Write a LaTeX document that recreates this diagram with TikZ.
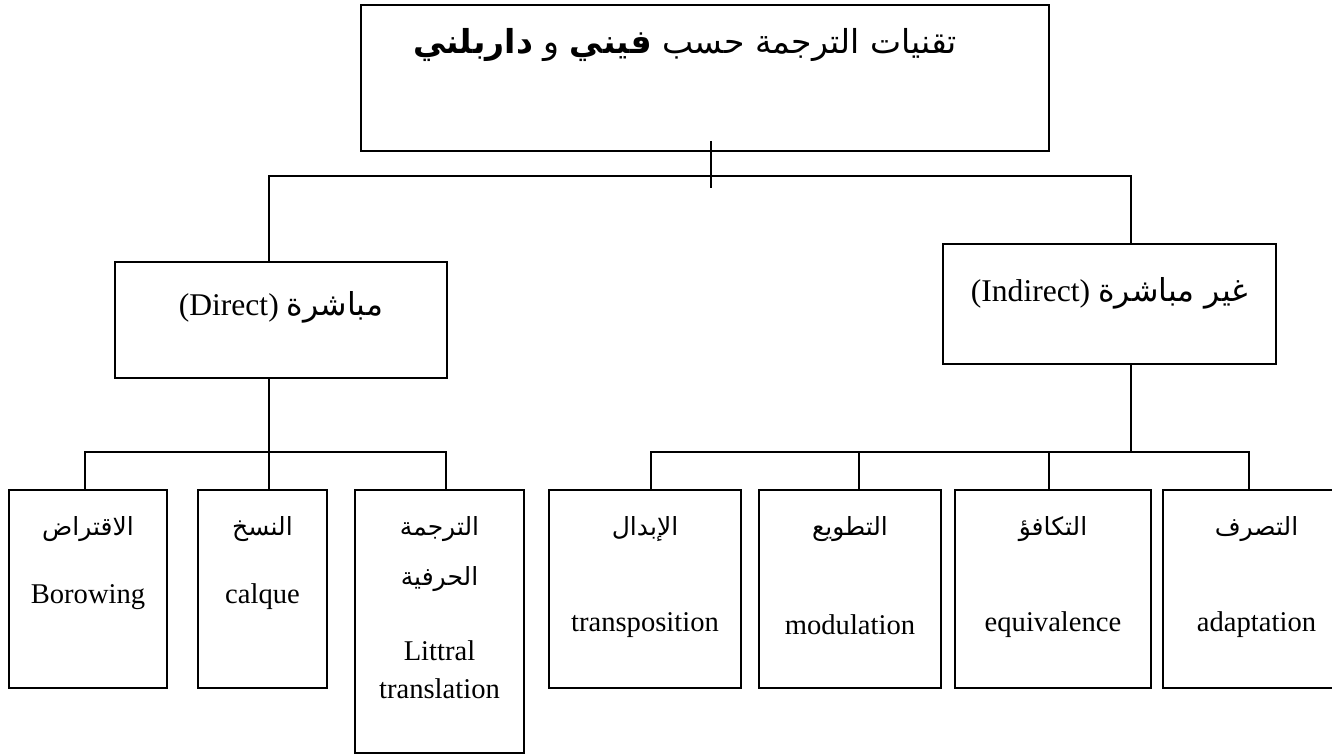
\documentclass[tikz,border=0pt]{standalone}
\usepackage{fontspec}
\setmainfont{Liberation Serif}
\newfontfamily\arabicfont[Script=Arabic]{DejaVu Sans}
\TeXXeTstate=1
\usetikzlibrary{calc}
\newcommand{\artext}[1]{{\arabicfont\beginR #1\endR}}

\begin{document}
\begin{tikzpicture}[x=0.5pt,y=-0.5pt,line width=1pt,
    box/.style={draw,inner sep=0pt},
    leaf/.style={box,minimum height=99pt},
    head/.style={inner sep=0pt,font=\fontsize{15.8}{18}\selectfont},
    en/.style={inner sep=0pt,font=\fontsize{14.3}{19}\selectfont,align=center},
    ar/.style={inner sep=0pt,font=\fontsize{12.5}{25}\selectfont,align=center}]
  \useasboundingbox (0,0) rectangle (1332,754);
  \clip (0,0) rectangle (1332,754);
  % ---------- top: the title and the two kinds ----------
  \node[box,minimum width=344pt,minimum height=73pt] (title) at (705,78) {};
  \node[inner sep=0pt,font=\fontsize{16.5}{18}\selectfont] (titletext) at (685,45)
    {\artext{تقنيات الترجمة حسب \textbf{فيني} و \textbf{داربلني}}};
  \node[box,minimum width=166pt,minimum height=58pt] (direct) at (281,320) {};
  \node[head] (directtext) at ($(direct.north)+(0,46)$) {(Direct) \artext{مباشرة}};
  \node[box,minimum width=166.5pt,minimum height=60pt] (indirect) at (1109.5,304) {};
  \node[head] (indirecttext) at ($(indirect.north)+(0,50)$) {(Indirect) \artext{غير مباشرة}};
  \coordinate (tickup) at (711,141);
  \coordinate (tickdn) at (711,188);
  \coordinate (dstem) at (269,176);
  \coordinate (istem) at (1131,176);
  \coordinate (dbar) at (269,452);
  \coordinate (ibar) at (1131,452);
  \draw (tickup) -- (tickdn);
  \draw (direct.north -| dstem) -- (dstem) -- (istem) -- (indirect.north -| istem);
  \draw (direct.south -| dbar) -- (dbar);
  \draw (indirect.south -| ibar) -- (ibar);
  % ---------- bottom: the seven techniques ----------
  \node[leaf,minimum width=79pt] (borrow) at (88,589) {};
  \node[leaf,minimum width=64.5pt] (calque) at (262.5,589) {};
  \node[box,minimum width=84.5pt,minimum height=131.5pt] (literal) at (439.5,621.5) {};
  \node[leaf,minimum width=96pt] (transp) at (645,589) {};
  \node[leaf,minimum width=91pt] (modul) at (850,589) {};
  \node[leaf,minimum width=98pt] (equiv) at (1053,589) {};
  \node[leaf,minimum width=93.5pt] (adapt) at (1256.5,589) {};
  \foreach \n/\dx in {borrow/-3,calque/6.5,literal/6.5}
    \draw ($(\n.north)+(\dx,0)$) |- (dbar);
  \foreach \n/\dx in {transp/6,modul/9,equiv/-4,adapt/-7.5}
    \draw ($(\n.north)+(\dx,0)$) |- (ibar);
  \foreach \n/\a/\e/\ey in {borrow/الاقتراض/Borowing/108,calque/النسخ/calque/108,
      transp/الإبدال/transposition/136,modul/التطويع/modulation/136,
      equiv/التكافؤ/equivalence/136,adapt/التصرف/adaptation/136}
    {\node[ar] (\n-ar) at ($(\n.north)+(0,40)$) {\artext{\a}};
     \node[en] (\n-en) at ($(\n.north)+(0,\ey)$) {\e};}
  \node[ar] (literal-ar) at ($(literal.north)+(0,65)$) {\artext{الترجمة}\\\artext{الحرفية}};
  \node[en] (literal-en) at ($(literal.north)+(0,181)$) {Littral\\translation};
\end{tikzpicture}
\end{document}
